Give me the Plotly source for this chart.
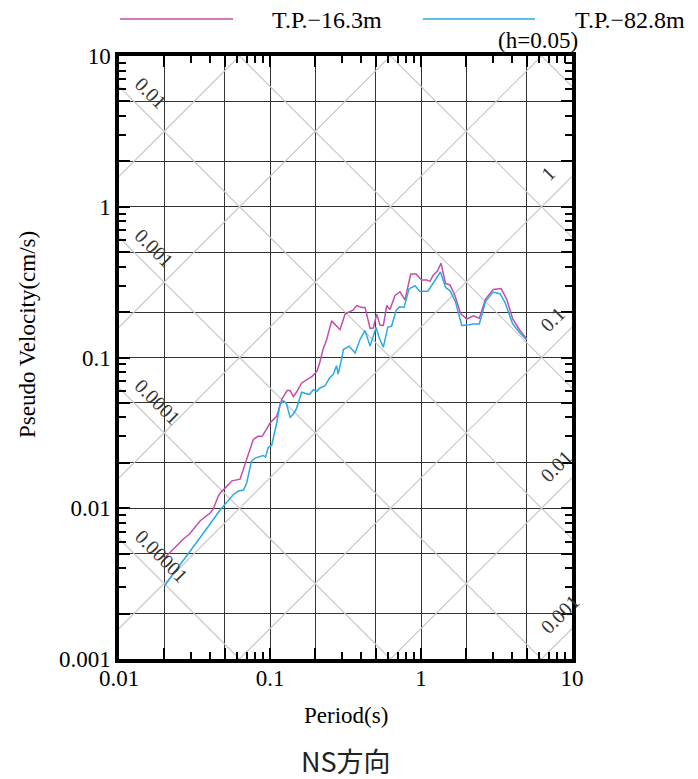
import math
import plotly.graph_objects as go

# ---------------- data ----------------
PERIOD_16 = [0.0200, 0.0223, 0.0238, 0.0254, 0.0267, 0.0293, 0.0344, 0.0401, 0.0421, 0.0455,
             0.0474, 0.0504, 0.0560, 0.0633, 0.0683, 0.0737, 0.0775, 0.0839, 0.0885, 0.0951,
             0.100, 0.111, 0.120, 0.130, 0.136, 0.143, 0.150, 0.162, 0.175, 0.190,
             0.205, 0.214, 0.225, 0.237, 0.256, 0.279, 0.291, 0.314, 0.356, 0.375,
             0.405, 0.426, 0.460, 0.483, 0.509, 0.535, 0.563, 0.593, 0.623, 0.673,
             0.726, 0.783, 0.855, 0.927, 1.011, 1.091, 1.147, 1.207, 1.282, 1.357,
             1.453, 1.556, 1.680, 1.827, 2.008, 2.220, 2.433, 2.674, 3.011, 3.387,
             3.693, 4.049, 4.524, 5.000]
SV_16 = [0.00468, 0.00523, 0.00562, 0.00597, 0.00625, 0.00675, 0.00823, 0.00929, 0.00989, 0.0121,
         0.0128, 0.0136, 0.0152, 0.0156, 0.0194, 0.0240, 0.0286, 0.0301, 0.0299, 0.0336,
         0.0368, 0.0409, 0.0531, 0.0603, 0.0603, 0.0551, 0.0590, 0.0678, 0.0709, 0.0748,
         0.0813, 0.0933, 0.114, 0.131, 0.175, 0.161, 0.153, 0.194, 0.207, 0.221,
         0.215, 0.215, 0.156, 0.157, 0.194, 0.164, 0.163, 0.221, 0.208, 0.258,
         0.273, 0.241, 0.358, 0.358, 0.327, 0.327, 0.320, 0.353, 0.373, 0.422,
         0.310, 0.303, 0.257, 0.196, 0.180, 0.189, 0.182, 0.244, 0.283, 0.287,
         0.244, 0.180, 0.151, 0.133]

PERIOD_82 = [0.0200, 0.0242, 0.0289, 0.0344, 0.0401, 0.0467, 0.0527, 0.0571, 0.0617, 0.0668,
             0.0701, 0.0752, 0.0796, 0.0839, 0.0899, 0.0934, 0.0974, 0.1026, 0.111, 0.1165,
             0.123, 0.128, 0.136, 0.143, 0.150, 0.162, 0.182, 0.194, 0.204, 0.214,
             0.231, 0.248, 0.263, 0.276, 0.283, 0.299, 0.306, 0.334, 0.366, 0.395,
             0.426, 0.460, 0.504, 0.530, 0.563, 0.603, 0.638, 0.683, 0.721, 0.772,
             0.833, 0.913, 0.985, 1.113, 1.210, 1.346, 1.453, 1.556, 1.692, 1.860,
             2.032, 2.220, 2.433, 2.674, 2.998, 3.336, 3.600, 4.036, 4.477, 5.000]
SV_82 = [0.00305, 0.00395, 0.00497, 0.00635, 0.00786, 0.00974, 0.0113, 0.0123, 0.0130, 0.0132,
         0.0147, 0.0204, 0.0215, 0.0219, 0.0224, 0.0219, 0.0254, 0.0261, 0.0372, 0.0491,
         0.0514, 0.0499, 0.0401, 0.0422, 0.0460, 0.0588, 0.0568, 0.0611, 0.0597, 0.0628,
         0.0647, 0.0731, 0.0777, 0.0882, 0.0777, 0.0992, 0.113, 0.119, 0.107, 0.132,
         0.151, 0.119, 0.158, 0.134, 0.117, 0.159, 0.161, 0.204, 0.217, 0.215,
         0.285, 0.299, 0.274, 0.276, 0.315, 0.369, 0.292, 0.277, 0.234, 0.163,
         0.164, 0.167, 0.167, 0.235, 0.272, 0.265, 0.232, 0.168, 0.147, 0.131]

SERIES_NAMES = ["T.P.\u221216.3m", "T.P.\u221282.8m"]
SERIES_COLORS = ["#C44DA8", "#2AAAE2"]

# tripartite guide values
SD_VALUES = [1e-5, 1e-4, 1e-3, 1e-2, 1e-1, 1, 10]          # displacement (cm)
SD_LABELS = {1e-2: "0.01", 1e-3: "0.001", 1e-4: "0.0001", 1e-5: "0.00001"}
SA_VALUES = [1e-3, 1e-2, 1e-1, 1, 10, 100, 1000]            # acceleration (cm/s2)
SA_LABELS = {1: "1", 1e-1: "0.1", 1e-2: "0.01", 1e-3: "0.001"}

X_TICKS = [0.01, 0.1, 1, 10]
X_TICKTEXT = ["0.01", "0.1", "1", "10"]
Y_TICKS = [0.001, 0.01, 0.1, 1, 10]
Y_TICKTEXT = ["0.001", "0.01", "0.1", "1", "10"]

SERIF = "Liberation Serif, Times New Roman, serif"
TXT = 23
LBL = 20

fig = go.Figure()

# guide lines
T_END = [0.005, 20.0]
for sd in SD_VALUES:
    fig.add_trace(go.Scatter(x=T_END, y=[2 * math.pi * sd / t for t in T_END], mode="lines",
                             line=dict(color="#c8c8c8", width=1.2), hoverinfo="skip", showlegend=False))
for sa in SA_VALUES:
    fig.add_trace(go.Scatter(x=T_END, y=[sa * t / (2 * math.pi) for t in T_END], mode="lines",
                             line=dict(color="#c8c8c8", width=1.2), hoverinfo="skip", showlegend=False))

for xs, ys, nm, col in [(PERIOD_16, SV_16, SERIES_NAMES[0], SERIES_COLORS[0]),
                        (PERIOD_82, SV_82, SERIES_NAMES[1], SERIES_COLORS[1])]:
    fig.add_trace(go.Scatter(x=xs, y=ys, name=nm, mode="lines",
                             line=dict(color=col, width=1.5), showlegend=False))

# major grid: 1,2,5 per decade
def grid_vals(lo, hi):
    out = []
    for e in range(lo, hi):
        for m in (1, 2, 5):
            out.append(m * 10 ** e)
    out.append(10 ** hi)
    return out

def minor_vals(lo, hi):
    out = []
    for e in range(lo, hi):
        for m in (3, 4, 6, 7, 8, 9):
            out.append(m * 10 ** e)
    return out

def label_for(v, ticks, texts):
    for t, s in zip(ticks, texts):
        if abs(v - t) < 1e-12:
            return s
    return ""

xg = grid_vals(-2, 1)
yg = grid_vals(-3, 1)
xtext = [label_for(v, X_TICKS, X_TICKTEXT) for v in xg]
ytext = [label_for(v, Y_TICKS, Y_TICKTEXT) for v in yg]

axis_common = dict(type="log", showline=True, linecolor="black", linewidth=3.5, mirror="ticks",
                   ticks="inside", ticklen=11, tickwidth=1.5, tickcolor="black",
                   showgrid=True, gridcolor="#333333", gridwidth=1, zeroline=False,
                   tickfont=dict(family=SERIF, size=TXT, color="black"))

fig.update_xaxes(range=[-2, 1], tickmode="array", tickvals=xg, ticktext=xtext, ticklabelstandoff=-4,
                 minor=dict(tickmode="array", tickvals=minor_vals(-2, 1), ticks="inside",
                            ticklen=7, tickwidth=1.5, tickcolor="black", showgrid=False),
                 **axis_common)
fig.update_yaxes(range=[-3, 1], tickmode="array", tickvals=yg, ticktext=ytext,
                 minor=dict(tickmode="array", tickvals=minor_vals(-3, 1), ticks="inside",
                            ticklen=7, tickwidth=1.5, tickcolor="black", showgrid=False),
                 **axis_common)


def text_len(s):
    return sum(LBL * (0.5 if c.isdigit() else 0.25) for c in s)


ann = []
for sd, lab in SD_LABELS.items():
    h = 0.354 * text_len(lab)
    ann.append(dict(x=-2, y=math.log10(2 * math.pi * sd / 0.01), xref="x", yref="y",
                    text=lab, showarrow=False, textangle=45, xanchor="center", yanchor="middle",
                    xshift=19.5 + h, yshift=5.5 - h, font=dict(family=SERIF, size=LBL, color="#333")))
for sa, lab in SA_LABELS.items():
    h = 0.354 * text_len(lab)
    ann.append(dict(x=1, y=math.log10(sa * 10 / (2 * math.pi)), xref="x", yref="y",
                    text=lab, showarrow=False, textangle=-45, xanchor="center", yanchor="middle",
                    xshift=-28 + h, yshift=h - 1, font=dict(family=SERIF, size=LBL, color="#333")))

# axis titles / captions
ann.append(dict(x=-0.2009, y=0.539, xref="paper", yref="paper", text="Pseudo Velocity(cm/s)",
                showarrow=False, textangle=-90, xanchor="center", yanchor="middle",
                font=dict(family=SERIF, size=TXT, color="black")))
ann.append(dict(x=0.5, y=-0.0945, xref="paper", yref="paper", text="Period(s)",
                showarrow=False, xanchor="center", yanchor="middle",
                font=dict(family=SERIF, size=TXT, color="black")))
ann.append(dict(x=0.5, y=-0.169, xref="paper", yref="paper", text="NS方向",
                showarrow=False, xanchor="center", yanchor="middle",
                font=dict(family="Noto Sans CJK JP", size=27, color="#222")))
ann.append(dict(x=1.0177, y=1.0249, xref="paper", yref="paper", text="(h=0.05)",
                showarrow=False, xanchor="right", yanchor="middle",
                font=dict(family=SERIF, size=TXT, color="black")))

# manual legend
shapes = []
legend_pos = [(0.0022, 0.2517, 0.3333), (0.6711, 0.9183, 1.0022)]
for (x0, x1, xt), nm, col in zip(legend_pos, SERIES_NAMES, SERIES_COLORS):
    shapes.append(dict(type="line", xref="paper", yref="paper", x0=x0, x1=x1, y0=1.0614, y1=1.0614,
                       line=dict(color=col, width=1.5)))
    ann.append(dict(x=xt, y=1.0597, xref="paper", yref="paper", text=nm, showarrow=False,
                    xanchor="left", yanchor="middle", font=dict(family=SERIF, size=24, color="black")))

fig.update_layout(width=690, height=771, margin=dict(l=111, r=126, t=48, b=120),
                  paper_bgcolor="white", plot_bgcolor="white", showlegend=False,
                  annotations=ann, shapes=shapes)

fig.write_html("out.html")
